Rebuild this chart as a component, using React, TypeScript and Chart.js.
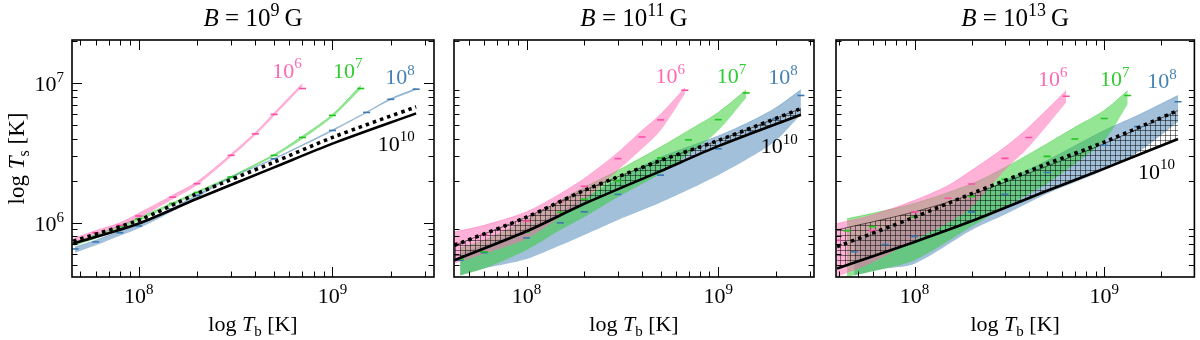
import React, { useEffect, useRef } from "react";
import { Chart, registerables } from "chart.js";
Chart.register(...registerables);

const FONT = '"Liberation Serif", "DejaVu Serif", serif';

// ---------- text content ----------
const fieldExp = ["9", "11", "13"];
const curveExp = ["6", "7", "8", "10"];

// ---------- axis ranges ----------
const xMinArr = [4.53e7, 4.18e7, 3.85e7];
const xMaxArr = [3.34e9, 3.16e9, 2.99e9];
const yMin = 4.09e5;
const yMax = 2.05e7;
const xTickLabelVals = [1e8, 1e9];
const yTickLabelVals = [1e6, 1e7];

// ---------- panel 1 (B = 1e9 G) ----------
const p1PinkT = [4.6e7, 6e7, 8e7, 1e8, 1.5e8, 2e8, 3e8, 4e8, 5e8, 7e8];
const p1PinkHi = [7.7e5, 8.8e5, 1.0e6, 1.17e6, 1.58e6, 1.97e6, 3.12e6, 4.45e6, 6.15e6, 1.0e7];
const p1PinkLo = [7.2e5, 8.2e5, 9.3e5, 1.08e6, 1.48e6, 1.86e6, 2.98e6, 4.25e6, 5.85e6, 9.5e6];
const p1PinkMid = [7.5e5, 8.5e5, 9.6e5, 1.12e6, 1.53e6, 1.91e6, 3.05e6, 4.35e6, 6.0e6, 9.2e6];

const p1GreenT = [4.6e7, 6e7, 8e7, 1e8, 1.5e8, 2e8, 3e8, 5e8, 7e8, 1e9, 1.4e9];
const p1GreenHi = [7.3e5, 8.2e5, 9.6e5, 1.09e6, 1.4e6, 1.68e6, 2.16e6, 3.1e6, 4.2e6, 6.0e6, 9.7e6];
const p1GreenLo = [6.8e5, 7.7e5, 9.0e5, 1.03e6, 1.34e6, 1.62e6, 2.1e6, 3.0e6, 4.0e6, 5.75e6, 9.1e6];
const p1GreenMid = [7.1e5, 8.0e5, 9.4e5, 1.07e6, 1.38e6, 1.65e6, 2.13e6, 3.05e6, 4.1e6, 5.9e6, 9.2e6];

const p1BlueT = [4.7e7, 6e7, 8e7, 1e8, 1.5e8, 2e8, 3e8, 5e8, 1e9, 1.5e9, 2e9, 2.7e9];
const p1BlueHi = [6.7e5, 7.5e5, 8.7e5, 9.7e5, 1.28e6, 1.59e6, 2.14e6, 2.9e6, 4.65e6, 6.25e6, 7.8e6, 9.2e6];
const p1BlueLo = [6.1e5, 6.9e5, 8.1e5, 9.1e5, 1.21e6, 1.52e6, 2.09e6, 2.85e6, 4.55e6, 6.15e6, 7.6e6, 9.0e6];
const p1BlueMid = [6.5e5, 7.3e5, 8.5e5, 9.5e5, 1.26e6, 1.57e6, 2.12e6, 2.88e6, 4.6e6, 6.2e6, 7.7e6, 9.1e6];

const p1LineT = [4.6e7, 1e8, 2e8, 5e8, 1e9, 2.7e9];
const p1Solid = [7.1e5, 9.9e5, 1.49e6, 2.5e6, 3.7e6, 6.1e6];
const p1Dotted = [7.4e5, 1.045e6, 1.62e6, 2.73e6, 4.1e6, 6.8e6];

// ---------- panel 2 (B = 1e11 G) ----------
const p2PinkT = [4.2e7, 6e7, 1e8, 1.5e8, 2e8, 3e8, 4e8, 5e8, 6.7e8];
const p2PinkHi = [8.6e5, 9.6e5, 1.2e6, 1.62e6, 2.08e6, 3.2e6, 4.6e6, 6.0e6, 9.3e6];
const p2PinkLo = [5.1e5, 6.0e5, 7.7e5, 1.1e6, 1.45e6, 2.38e6, 3.4e6, 4.6e6, 8.4e6];
const p2PinkMid = [7.2e5, 8.2e5, 1.03e6, 1.42e6, 1.83e6, 2.89e6, 4.13e6, 5.48e6, 8.95e6];

const p2GreenT = [4.5e7, 6e7, 1e8, 1.5e8, 2e8, 3e8, 5e8, 7e8, 1e9, 1.4e9];
const p2GreenHi = [6.6e5, 7.5e5, 1.05e6, 1.45e6, 1.8e6, 2.38e6, 3.5e6, 4.6e6, 6.2e6, 9.0e6];
const p2GreenLo = [4.2e5, 4.7e5, 6.4e5, 8.9e5, 1.1e6, 1.53e6, 2.25e6, 3.1e6, 4.6e6, 7.9e6];
const p2GreenMid = [5.5e5, 6.2e5, 8.6e5, 1.19e6, 1.48e6, 2.0e6, 2.93e6, 3.94e6, 5.5e6, 8.55e6];

const p2BlueT = [4.5e7, 6e7, 1e8, 1.5e8, 2e8, 3e8, 5e8, 1e9, 1.5e9, 2e9, 2.7e9];
const p2BlueHi = [6.0e5, 6.9e5, 9.2e5, 1.2e6, 1.5e6, 2.05e6, 2.95e6, 4.2e6, 5.4e6, 6.7e6, 9.0e6];
const p2BlueLo = [4.2e5, 4.7e5, 5.5e5, 6.9e5, 8.2e5, 1.05e6, 1.4e6, 2.2e6, 3.0e6, 3.9e6, 6.0e6];
const p2BlueMid = [5.4e5, 6.1e5, 7.8e5, 1.0e6, 1.2e6, 1.6e6, 2.2e6, 3.4e6, 4.5e6, 5.6e6, 8.2e6];

const p2LineT = [4.2e7, 1e8, 2e8, 5e8, 1e9, 2.7e9];
const p2Solid = [5.4e5, 8.7e5, 1.37e6, 2.35e6, 3.55e6, 5.97e6];
const p2Dotted = [6.9e5, 1.1e6, 1.71e6, 2.8e6, 3.9e6, 6.6e6];

// ---------- panel 3 (B = 1e13 G) ----------
const p3PinkT = [3.9e7, 6e7, 1e8, 1.5e8, 2e8, 3e8, 4e8, 6.3e8];
const p3PinkHi = [9.9e5, 1.14e6, 1.45e6, 1.85e6, 2.38e6, 3.5e6, 4.85e6, 8.9e6];
const p3PinkLo = [4.1e5, 5.2e5, 7.5e5, 1.0e6, 1.3e6, 2.4e6, 3.5e6, 7.3e6];
const p3PinkMid = [7.5e5, 8.8e5, 1.2e6, 1.5e6, 1.9e6, 2.9e6, 4.1e6, 8.1e6];

const p3GreenT = [4.4e7, 6e7, 1e8, 2e8, 3e8, 5e8, 7e8, 1e9, 1.33e9];
const p3GreenHi = [1.07e6, 1.17e6, 1.38e6, 1.91e6, 2.5e6, 3.7e6, 4.85e6, 6.4e6, 8.9e6];
const p3GreenLo = [4.1e5, 4.5e5, 5.4e5, 9.4e5, 1.3e6, 1.91e6, 2.65e6, 3.9e6, 7.1e6];
const p3GreenMid = [8.8e5, 9.4e5, 1.1e6, 1.55e6, 2.05e6, 3.0e6, 4.0e6, 5.6e6, 8.2e6];

const p3BlueT = [4.8e7, 7e7, 1e8, 2e8, 3e8, 5e8, 1e9, 1.5e9, 2.45e9];
const p3BlueHi = [7.5e5, 9.0e5, 1.05e6, 1.53e6, 2.0e6, 2.8e6, 4.6e6, 5.9e6, 8.2e6];
const p3BlueLo = [4.2e5, 4.7e5, 5.1e5, 8.9e5, 1.15e6, 1.62e6, 2.38e6, 3.2e6, 5.3e6];
const p3BlueMid = [6.2e5, 7.0e5, 8.0e5, 1.2e6, 1.6e6, 2.3e6, 3.6e6, 4.9e6, 7.4e6];

const p3LineT = [3.9e7, 1e8, 2e8, 5e8, 1e9, 2.45e9];
const p3Solid = [4.7e5, 7.3e5, 1.03e6, 1.7e6, 2.45e6, 4.0e6];
const p3Dotted = [6.75e5, 1.1e6, 1.62e6, 2.65e6, 3.8e6, 6.4e6];
const p3HatchTop = [8.9e5, 1.2e6, 1.6e6, 2.55e6, 3.7e6, 6.4e6];

// ---------- curve-label anchors (Tb, Ts), right-aligned, baseline ----------
const labelT = [
  [6.94e8, 1.43e9, 2.66e9, 2.66e9],
  [6.7e8, 1.4e9, 2.6e9, 2.6e9],
  [6.4e8, 1.36e9, 2.41e9, 2.36e9],
];
const labelTs = [
  [1.1e7, 1.1e7, 9.95e6, 3.3e6],
  [1.01e7, 1.01e7, 9.95e6, 3.15e6],
  [9.6e6, 9.6e6, 9.3e6, 2.08e6],
];

// ---------- layout / style ----------
const W = 1200;
const H = 340;
const plotLeft = [72, 454, 836];
const plotRight = [434, 814, 1198];
const plotTop = 40;
const plotBottom = 277;

const C = {
  pinkFill: "rgba(255,105,180,0.52)",
  pinkDash: "#ff4da6",
  pinkText: "#ff69b4",
  greenFill: "rgba(50,205,50,0.52)",
  greenDash: "#1fc41f",
  greenText: "#2fcd2f",
  blueFill: "rgba(70,130,180,0.5)",
  blueDash: "#3a78b2",
  blueText: "#4682b4",
};

type Seg = { t: string; it?: boolean; sz?: number; dy?: number };

function segFont(s: Seg, size: number) {
  return `${s.it ? "italic " : ""}${Math.round(size * (s.sz || 1))}px ${FONT}`;
}
function drawRich(ctx: CanvasRenderingContext2D, segs: Seg[], x: number, y: number, size: number, align: string, color: string) {
  let total = 0;
  for (const s of segs) {
    ctx.font = segFont(s, size);
    total += ctx.measureText(s.t).width;
  }
  let cx = align === "center" ? x - total / 2 : align === "right" ? x - total : x;
  ctx.fillStyle = color;
  ctx.textAlign = "left";
  ctx.textBaseline = "alphabetic";
  for (const s of segs) {
    ctx.font = segFont(s, size);
    ctx.fillText(s.t, cx, y + (s.dy || 0) * size);
    cx += ctx.measureText(s.t).width;
  }
}
function pow10Segs(e: string): Seg[] {
  return [{ t: "10" }, { t: e, sz: 0.7, dy: -0.42 }];
}

function pts(x: number[], y: number[]) {
  return x.map((v, i) => ({ x: v, y: y[i] }));
}

function makeHatch(): any {
  const c = document.createElement("canvas");
  c.width = 5;
  c.height = 5;
  const g = c.getContext("2d")!;
  g.strokeStyle = "rgba(0,0,0,0.7)";
  g.lineWidth = 0.7;
  g.beginPath();
  g.moveTo(0, 0.5);
  g.lineTo(5, 0.5);
  g.moveTo(0.5, 0);
  g.lineTo(0.5, 5);
  g.stroke();
  return g.createPattern(c, "repeat");
}

type Band = { t: number[]; lo: number[]; hi: number[]; mid: number[]; fill: string; dash: string };
type PanelSpec = {
  idx: number;
  bands: Band[];
  lineT: number[];
  solid: number[];
  dotted: number[];
  hatchTop?: number[];
};

const panels: PanelSpec[] = [
  {
    idx: 0,
    bands: [
      { t: p1PinkT, lo: p1PinkLo, hi: p1PinkHi, mid: p1PinkMid, fill: C.pinkFill, dash: C.pinkDash },
      { t: p1GreenT, lo: p1GreenLo, hi: p1GreenHi, mid: p1GreenMid, fill: C.greenFill, dash: C.greenDash },
      { t: p1BlueT, lo: p1BlueLo, hi: p1BlueHi, mid: p1BlueMid, fill: C.blueFill, dash: C.blueDash },
    ],
    lineT: p1LineT,
    solid: p1Solid,
    dotted: p1Dotted,
  },
  {
    idx: 1,
    bands: [
      { t: p2PinkT, lo: p2PinkLo, hi: p2PinkHi, mid: p2PinkMid, fill: C.pinkFill, dash: C.pinkDash },
      { t: p2GreenT, lo: p2GreenLo, hi: p2GreenHi, mid: p2GreenMid, fill: C.greenFill, dash: C.greenDash },
      { t: p2BlueT, lo: p2BlueLo, hi: p2BlueHi, mid: p2BlueMid, fill: C.blueFill, dash: C.blueDash },
    ],
    lineT: p2LineT,
    solid: p2Solid,
    dotted: p2Dotted,
    hatchTop: p2Dotted,
  },
  {
    idx: 2,
    bands: [
      { t: p3PinkT, lo: p3PinkLo, hi: p3PinkHi, mid: p3PinkMid, fill: C.pinkFill, dash: C.pinkDash },
      { t: p3GreenT, lo: p3GreenLo, hi: p3GreenHi, mid: p3GreenMid, fill: C.greenFill, dash: C.greenDash },
      { t: p3BlueT, lo: p3BlueLo, hi: p3BlueHi, mid: p3BlueMid, fill: C.blueFill, dash: C.blueDash },
    ],
    lineT: p3LineT,
    solid: p3Solid,
    dotted: p3Dotted,
    hatchTop: p3HatchTop,
  },
];

const labelColors = [C.pinkText, C.greenText, C.blueText, "#000000"];

function buildDatasets(p: PanelSpec): any[] {
  const base = { pointRadius: 0, tension: 0.3, fill: false };
  const ds: any[] = [];
  // index 0 is drawn on top
  ds.push({ ...base, data: pts(p.lineT, p.solid), borderColor: "#000", borderWidth: 2.6 });
  ds.push({ ...base, data: pts(p.lineT, p.dotted), borderColor: "#000", borderWidth: 3.6, borderDash: [3.5, 4] });
  for (const b of p.bands) {
    ds.push({
      data: pts(b.t, b.mid),
      showLine: false,
      pointStyle: "line",
      pointRadius: 3.5,
      pointBorderWidth: 1.6,
      pointBorderColor: b.dash,
      borderColor: b.dash,
      fill: false,
    });
  }
  if (p.hatchTop) {
    ds.push({ ...base, data: pts(p.lineT, p.solid), borderWidth: 0, borderColor: "rgba(0,0,0,0)" });
    ds.push({ ...base, data: pts(p.lineT, p.hatchTop), borderWidth: 0.8, borderColor: "rgba(0,0,0,0.7)", fill: "-1", backgroundColor: makeHatch() });
  }
  for (const b of p.bands) {
    ds.push({ ...base, data: pts(b.t, b.lo), borderWidth: 0, borderColor: "rgba(0,0,0,0)" });
    ds.push({ ...base, data: pts(b.t, b.hi), borderWidth: 0.8, borderColor: b.fill, fill: "-1", backgroundColor: b.fill });
  }
  return ds;
}

function decorPlugin(p: PanelSpec) {
  return {
    id: "decor" + p.idx,
    afterDraw(chart: any) {
      const ctx: CanvasRenderingContext2D = chart.ctx;
      const a = chart.chartArea;
      const xs = chart.scales.x;
      const ys = chart.scales.y;
      ctx.save();
      ctx.strokeStyle = "#000";
      ctx.lineWidth = 1;
      const majorLen = 10;
      const minorLen = 5.5;
      for (let e = 7; e <= 9; e++) {
        for (let m = 1; m <= 9; m++) {
          const v = m * Math.pow(10, e);
          if (v < xs.min || v > xs.max) continue;
          const px = Math.round(xs.getPixelForValue(v)) + 0.5;
          const len = m === 1 ? majorLen : minorLen;
          ctx.beginPath();
          ctx.moveTo(px, a.bottom);
          ctx.lineTo(px, a.bottom - len);
          ctx.moveTo(px, a.top);
          ctx.lineTo(px, a.top + len);
          ctx.stroke();
        }
      }
      for (let e = 5; e <= 7; e++) {
        for (let m = 1; m <= 9; m++) {
          const v = m * Math.pow(10, e);
          if (v < ys.min || v > ys.max) continue;
          if (m === 1 && p.idx > 0) continue;
          const py = Math.round(ys.getPixelForValue(v)) + 0.5;
          const len = m === 1 ? majorLen : minorLen;
          ctx.beginPath();
          ctx.moveTo(a.left, py);
          ctx.lineTo(a.left + len, py);
          ctx.moveTo(a.right, py);
          ctx.lineTo(a.right - len, py);
          ctx.stroke();
        }
      }
      ctx.lineWidth = 1.6;
      ctx.strokeRect(a.left, a.top, a.right - a.left, a.bottom - a.top);
      for (const v of xTickLabelVals) {
        const px = xs.getPixelForValue(v);
        drawRich(ctx, pow10Segs(String(Math.round(Math.log10(v)))), px, 303, 22, "center", "#000");
      }
      if (p.idx === 0) {
        for (const v of yTickLabelVals) {
          const py = ys.getPixelForValue(v);
          drawRich(ctx, pow10Segs(String(Math.round(Math.log10(v)))), a.left - 8, py + 8, 22, "right", "#000");
        }
        ctx.save();
        ctx.translate(24, (a.top + a.bottom) / 2);
        ctx.rotate(-Math.PI / 2);
        drawRich(ctx, [{ t: "log " }, { t: "T", it: true }, { t: "s", sz: 0.7, dy: 0.22 }, { t: " [K]" }], 0, 0, 23, "center", "#000");
        ctx.restore();
      }
      const cx = (a.left + a.right) / 2;
      drawRich(ctx, [{ t: "log " }, { t: "T", it: true }, { t: "b", sz: 0.7, dy: 0.22 }, { t: " [K]" }], cx, 331, 22, "center", "#000");
      drawRich(ctx, [{ t: "B", it: true }, { t: " = 10" }, { t: fieldExp[p.idx], sz: 0.7, dy: -0.42 }, { t: "\u2009G" }], cx, 26, 25, "center", "#000");
      for (let k = 0; k < 4; k++) {
        const lx = xs.getPixelForValue(labelT[p.idx][k]);
        const ly = ys.getPixelForValue(labelTs[p.idx][k]);
        drawRich(ctx, pow10Segs(curveExp[k]), lx, ly, 22, "right", labelColors[k]);
      }
      ctx.restore();
    },
  };
}

function Panel({ p }: { p: PanelSpec }) {
  const ref = useRef<HTMLCanvasElement>(null);
  useEffect(() => {
    const chart = new Chart(ref.current!, {
      type: "line",
      data: { datasets: buildDatasets(p) },
      options: {
        animation: false,
        responsive: false,
        devicePixelRatio: 1,
        events: [],
        layout: {
          padding: { left: plotLeft[p.idx], right: W - plotRight[p.idx], top: plotTop, bottom: H - plotBottom },
        },
        plugins: { legend: { display: false }, tooltip: { enabled: false }, title: { display: false } },
        scales: {
          x: { type: "logarithmic", min: xMinArr[p.idx], max: xMaxArr[p.idx], display: false },
          y: { type: "logarithmic", min: yMin, max: yMax, display: false },
        },
      } as any,
      plugins: [decorPlugin(p)],
    } as any);
    return () => chart.destroy();
  }, []);
  return <canvas ref={ref} width={W} height={H} style={{ position: "absolute", left: 0, top: 0, width: W, height: H }} />;
}

export default function App() {
  return (
    <div style={{ position: "fixed", left: 0, top: 0, width: W, height: H, background: "#fff", overflow: "hidden" }}>
      {panels.map((p) => (
        <Panel key={p.idx} p={p} />
      ))}
    </div>
  );
}
